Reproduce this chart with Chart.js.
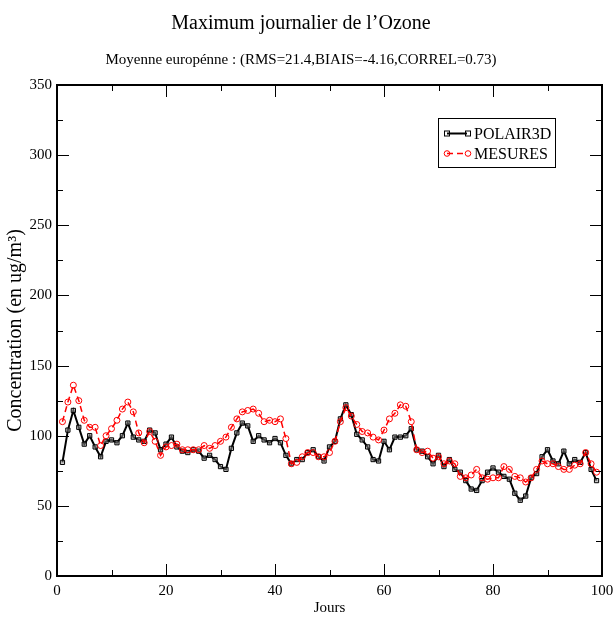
<!DOCTYPE html>
<html lang="fr">
<head>
<meta charset="UTF-8">
<title>Maximum journalier de l'Ozone</title>
<script src="https://cdn.jsdelivr.net/npm/chart.js"></script>
<style>
  html, body { margin: 0; padding: 0; background: #fff; }
  #wrap { width: 614px; height: 617px; }
</style>
</head>
<body>
<div id="wrap"><canvas id="ozone" width="614" height="617"></canvas></div>
<script>
// Jours (axe x)
const jours = [
  1, 2, 3, 4, 5, 6, 7, 8, 9, 10, 11, 12, 13, 14, 15, 16, 17, 18, 19, 20,
  21, 22, 23, 24, 25, 26, 27, 28, 29, 30, 31, 32, 33, 34, 35, 36, 37, 38, 39, 40,
  41, 42, 43, 44, 45, 46, 47, 48, 49, 50, 51, 52, 53, 54, 55, 56, 57, 58, 59, 60,
  61, 62, 63, 64, 65, 66, 67, 68, 69, 70, 71, 72, 73, 74, 75, 76, 77, 78, 79, 80,
  81, 82, 83, 84, 85, 86, 87, 88, 89, 90, 91, 92, 93, 94, 95, 96, 97, 98, 99
];

// Modele POLAIR3D
const polair3d = [
  81, 104, 118, 106, 94, 100, 92, 85, 96, 97, 95, 100, 109, 99, 97, 96, 104, 102, 90, 94,
  99, 92, 89, 88, 90, 89, 84, 86, 83, 78, 76, 91, 102, 109, 107, 96, 100, 97, 95, 98,
  95, 86, 80, 83, 83, 88, 90, 85, 82, 92, 96, 112, 122, 115, 101, 97, 92, 83, 82, 96,
  90, 99, 99, 100, 105, 90, 89, 85, 80, 86, 78, 83, 76, 74, 68, 62, 61, 68, 74, 77,
  74, 71, 69, 59, 54, 57, 70, 73, 85, 90, 82, 80, 89, 80, 83, 81, 88, 76, 68
];

// Mesures
const mesures = [
  110, 124, 136, 125, 111, 106, 106, 93, 100, 105, 111, 119, 124, 117, 102, 95, 103, 96, 86, 92,
  93, 94, 90, 90, 90, 90, 93, 91, 93, 96, 99, 106, 112, 117, 118, 119, 116, 110, 111, 110,
  112, 98, 80, 81, 85, 88, 88, 85, 85, 88, 96, 110, 120, 114, 108, 103, 102, 99, 97, 104,
  112, 116, 122, 121, 110, 90, 88, 89, 84, 85, 80, 82, 80, 71, 70, 72, 76, 70, 69, 70,
  70, 78, 76, 71, 70, 67, 70, 76, 82, 80, 80, 78, 76, 76, 79, 80, 88, 80, 74
];

const titre = "Maximum journalier de l\u2019Ozone";
const sousTitre = "Moyenne europ\u00e9nne : (RMS=21.4,BIAIS=-4.16,CORREL=0.73)";
const serif = "'Liberation Serif', 'DejaVu Serif', serif";

// cadre, graduations rentrantes et legende encadree
const cadre = {
  id: 'cadre',
  afterDatasetsDraw(chart) {
    const { ctx, chartArea: a, scales: { x, y } } = chart;
    ctx.save();
    ctx.strokeStyle = '#000';
    ctx.lineWidth = 1;
    const seg = (x1, y1, x2, y2) => {
      ctx.beginPath(); ctx.moveTo(x1, y1); ctx.lineTo(x2, y2); ctx.stroke();
    };
    for (let v = 0; v <= 100; v += 10) {
      const px = Math.round(x.getPixelForValue(v)) + 0.5;
      const len = v % 20 === 0 ? 12 : 6;
      seg(px, a.bottom, px, a.bottom - len);
      seg(px, a.top, px, a.top + len);
    }
    for (let v = 0; v <= 350; v += 25) {
      const py = Math.round(y.getPixelForValue(v)) + 0.5;
      const len = v % 50 === 0 ? 12 : 6;
      seg(a.left, py, a.left + len, py);
      seg(a.right, py, a.right - len, py);
    }
    ctx.lineWidth = 2;
    ctx.strokeRect(a.left, a.top, a.right - a.left, a.bottom - a.top);

    // legende
    const lx = 438, ly = 118, lw = 117, lh = 49;
    ctx.fillStyle = '#fff';
    ctx.fillRect(lx, ly, lw, lh);
    ctx.lineWidth = 1;
    ctx.strokeRect(lx + 0.5, ly + 0.5, lw, lh);
    ctx.font = '16px ' + serif;
    ctx.textBaseline = 'middle';
    chart.data.datasets.forEach((ds, i) => {
      const yy = ly + 15.5 + i * 20;
      ctx.strokeStyle = ds.borderColor;
      ctx.lineWidth = ds.borderWidth;
      ctx.setLineDash(ds.borderDash || []);
      seg(447, yy, 467, yy);
      ctx.setLineDash([]);
      ctx.lineWidth = 1;
      if (ds.pointStyle === 'rect') {
        ctx.strokeRect(444.5, yy - 2.5, 5, 5);
        ctx.strokeRect(465.5, yy - 2.5, 5, 5);
      } else {
        ctx.beginPath(); ctx.arc(447, yy, 2.8, 0, Math.PI * 2); ctx.stroke();
        ctx.beginPath(); ctx.arc(468, yy, 2.8, 0, Math.PI * 2); ctx.stroke();
      }
      ctx.fillStyle = '#000';
      ctx.fillText(ds.label, 474, yy + 1);
    });
    ctx.restore();
  }
};

new Chart(document.getElementById('ozone'), {
  type: 'line',
  data: {
    datasets: [
      {
        label: 'POLAIR3D',
        data: jours.map((j, i) => ({ x: j, y: polair3d[i] })),
        borderColor: '#000',
        borderWidth: 2,
        pointStyle: 'rect',
        pointRadius: 3,
        pointBorderWidth: 1,
        pointBorderColor: '#000',
        pointBackgroundColor: 'rgba(150,150,150,0.5)',
        tension: 0,
        order: 1
      },
      {
        label: 'MESURES',
        data: jours.map((j, i) => ({ x: j, y: mesures[i] })),
        borderColor: '#ff0000',
        borderWidth: 1.5,
        borderDash: [6, 4],
        pointStyle: 'circle',
        pointRadius: 3,
        pointBorderWidth: 1,
        pointBorderColor: '#ff0000',
        pointBackgroundColor: 'rgba(255,255,255,0)',
        tension: 0,
        order: 0
      }
    ]
  },
  options: {
    responsive: false,
    animation: false,
    devicePixelRatio: 1,
    layout: { padding: { left: 0, right: 12, top: 0, bottom: 0 } },
    plugins: {
      legend: { display: false },
      tooltip: { enabled: false },
      title: {
        display: true,
        text: titre,
        color: '#000',
        font: { family: serif, size: 20, weight: 'normal' },
        padding: { top: 12, bottom: 10 }
      },
      subtitle: {
        display: true,
        text: sousTitre,
        color: '#000',
        font: { family: serif, size: 15, weight: 'normal' },
        padding: { top: 5, bottom: 16 }
      }
    },
    scales: {
      x: {
        type: 'linear',
        min: 0,
        max: 100,
        grid: { display: false, drawTicks: false },
        border: { display: false },
        ticks: {
          stepSize: 20,
          color: '#000',
          padding: 6,
          maxRotation: 0,
          font: { family: serif, size: 15 }
        },
        title: {
          display: true,
          text: 'Jours',
          color: '#000',
          font: { family: serif, size: 15 },
          padding: { top: 0, bottom: 0 }
        },
        afterFit(scale) { scale.height = 41; scale.paddingRight = 0; }
      },
      y: {
        min: 0,
        max: 350,
        grid: { display: false, drawTicks: false },
        border: { display: false },
        ticks: {
          stepSize: 50,
          color: '#000',
          padding: 5,
          font: { family: serif, size: 15 }
        },
        title: {
          display: true,
          text: 'Concentration (en ug/m\u00b3)',
          color: '#000',
          font: { family: serif, size: 20 },
          padding: { top: 4, bottom: 0 }
        },
        afterFit(scale) { scale.width = 57; }
      }
    }
  },
  plugins: [cadre]
});
</script>
</body>
</html>
